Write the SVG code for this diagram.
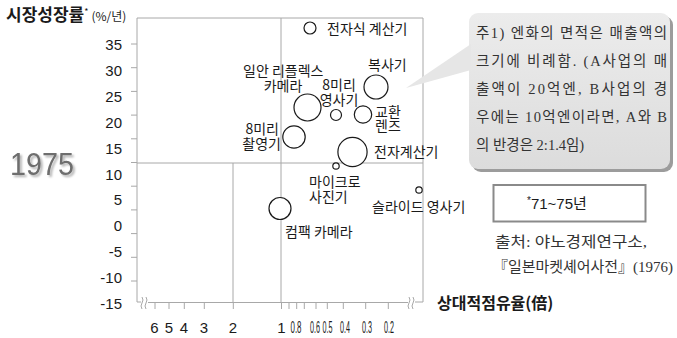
<svg xmlns="http://www.w3.org/2000/svg" width="677" height="338" viewBox="0 0 677 338">
<defs>
<style>
.ax{stroke:#a8a8a8;stroke-width:1;fill:none}
.lbl{font-family:"Noto Sans CJK KR","Liberation Sans",sans-serif;font-size:14px;fill:#1a1a1a}
.num{font-family:"Liberation Sans","Noto Sans CJK KR",sans-serif;font-size:15px;fill:#1a1a1a}
.dec{font-family:"Liberation Sans",sans-serif;font-size:16px;fill:#1a1a1a;text-anchor:middle}
.yl{text-anchor:end}
.xl{text-anchor:middle}
.bub{fill:#fff;stroke:#1a1a1a;stroke-width:1.2}
.note{font-family:"Liberation Serif","Noto Sans CJK KR",serif;font-size:14.5px;fill:#333}
.src{font-family:"Liberation Serif","Noto Sans CJK KR",serif;font-size:15px;fill:#333}
</style>
<filter id="sh" x="-10%" y="-20%" width="130%" height="150%">
<feDropShadow dx="2" dy="2" stdDeviation="1" flood-color="#000" flood-opacity="0.3"/>
</filter>
<linearGradient id="cg" x1="0" y1="0" x2="0" y2="1">
<stop offset="0" stop-color="#ececec"/>
<stop offset="1" stop-color="#dcdcdc"/>
</linearGradient>
</defs>
<rect width="677" height="338" fill="#fff"/>

<!-- axis titles -->
<text x="6" y="21" style="font-family:'Noto Sans CJK KR',sans-serif;font-size:17px;font-weight:bold;fill:#1a1a1a">시장성장률<tspan style="font-size:9px;font-weight:normal" dy="-6">*</tspan><tspan dy="6" dx="3" style="font-size:12px;font-weight:normal">(%/년)</tspan></text>
<text x="437" y="309" style="font-family:'Noto Sans CJK KR',sans-serif;font-size:16px;font-weight:bold;fill:#1a1a1a">상대적점유율(倍)</text>

<!-- 1975 -->
<text x="10" y="175" filter="url(#sh)" style="font-family:'Liberation Sans',sans-serif;font-size:31px;fill:#6e6e6e" textLength="64" lengthAdjust="spacingAndGlyphs">1975</text>

<!-- frame and grid -->
<g id="axes">
<path class="ax" d="M137,18 H423 V302 H415 M137,18 V302 H141 M148,302.5 H408"/>
<path class="ax" d="M137,163 H423 M281,18 V302 M233,163 V302"/>
<path class="ax" d="M131,44 H137 M131,67.7 H137 M131,91.4 H137 M131,115.1 H137 M131,138.8 H137 M131,162.5 H137 M131,186.2 H137 M131,209.9 H137 M131,233.6 H137 M131,257.3 H137 M131,281 H137"/>
<path class="ax" d="M155,303 V309 M169,303 V309 M184.3,303 V309 M204.3,303 V309 M233.3,303 V309 M281.5,303 V309 M289,303 V309 M296.7,303 V309 M304.3,303 V309 M316,303 V309 M327.3,303 V309 M343.3,303 V309 M365.7,303 V309 M388.3,303 V309"/>
<path class="ax" d="M142,297 q2,3 0,6 q-2,3 0,6 M146,297 q2,3 0,6 q-2,3 0,6 M409,297 q2,3 0,6 q-2,3 0,6 M413,297 q2,3 0,6 q-2,3 0,6"/>
</g>

<!-- y labels -->
<g class="num yl">
<text x="122" y="50">35</text>
<text x="122" y="76">30</text>
<text x="122" y="102">25</text>
<text x="122" y="128">20</text>
<text x="122" y="154">15</text>
<text x="122" y="180">10</text>
<text x="122" y="205">5</text>
<text x="122" y="231">0</text>
<text x="122" y="257">-5</text>
<text x="122" y="283">-10</text>
<text x="122" y="309">-15</text>
</g>

<!-- x labels -->
<g class="num xl">
<text x="154.5" y="333">6</text>
<text x="169" y="333">5</text>
<text x="184" y="333">4</text>
<text x="204" y="333">3</text>
<text x="233" y="333">2</text>
<text x="281.5" y="333">1</text>
</g>
<g>
<text class="dec" x="296" y="333" textLength="11" lengthAdjust="spacingAndGlyphs">0.8</text>
<text class="dec" x="315" y="333" textLength="10" lengthAdjust="spacingAndGlyphs">0.6</text>
<text class="dec" x="327.5" y="333" textLength="10" lengthAdjust="spacingAndGlyphs">0.5</text>
<text class="dec" x="345" y="333" textLength="10" lengthAdjust="spacingAndGlyphs">0.4</text>
<text class="dec" x="367" y="333" textLength="10" lengthAdjust="spacingAndGlyphs">0.3</text>
<text class="dec" x="389" y="333" textLength="10" lengthAdjust="spacingAndGlyphs">0.2</text>
</g>

<!-- bubbles -->
<g id="n-calc-e">
<circle class="bub" cx="310" cy="28" r="6"/>
<text class="lbl" x="327" y="34">전자식 계산기</text>
</g>
<g id="n-copier">
<circle class="bub" cx="376" cy="87" r="12"/>
<text class="lbl" x="368" y="70">복사기</text>
</g>
<g id="n-slr">
<circle class="bub" cx="307.5" cy="107.5" r="13.5"/>
<text class="lbl" x="243" y="76">일안 리플렉스</text>
<text class="lbl" x="283" y="91" text-anchor="middle">카메라</text>
</g>
<g id="n-8proj">
<circle class="bub" cx="336" cy="115" r="5.5"/>
<text class="lbl" x="339" y="90" text-anchor="middle">8미리</text>
<text class="lbl" x="339" y="105" text-anchor="middle">영사기</text>
</g>
<g id="n-lens">
<circle class="bub" cx="363" cy="114.5" r="8.7"/>
<text class="lbl" x="375" y="117">교환</text>
<text class="lbl" x="375" y="131">렌즈</text>
</g>
<g id="n-8cam">
<circle class="bub" cx="294" cy="137" r="11.2"/>
<text class="lbl" x="279" y="134" text-anchor="end">8미리</text>
<text class="lbl" x="281" y="149" text-anchor="end">촬영기</text>
</g>
<g id="n-calc">
<circle class="bub" cx="352.5" cy="152" r="14.6"/>
<text class="lbl" x="374" y="157">전자계산기</text>
</g>
<g id="n-micro">
<circle class="bub" cx="336" cy="166" r="3.2"/>
<text class="lbl" x="309" y="187">마이크로</text>
<text class="lbl" x="309" y="202">사진기</text>
</g>
<g id="n-slide">
<circle class="bub" cx="419" cy="190" r="3.2"/>
<text class="lbl" x="372" y="212">슬라이드 영사기</text>
</g>
<g id="n-compact">
<circle class="bub" cx="280" cy="208.5" r="11"/>
<text class="lbl" x="285" y="237">컴팩 카메라</text>
</g>

<!-- callout -->
<g id="callout">
<rect x="472" y="16" width="201" height="156" rx="9" fill="#9c9c9c"/>
<rect x="469" y="13" width="201" height="156" rx="9" fill="url(#cg)"/>
<polygon points="406,88 471,44 471,70" fill="#e6e6e6"/>
<text class="note" x="476" y="38" textLength="191" lengthAdjust="spacing">주1) 엔화의 면적은 매출액의</text>
<text class="note" x="476" y="66" textLength="191" lengthAdjust="spacing">크기에 비례함. (A사업의 매</text>
<text class="note" x="476" y="94" textLength="191" lengthAdjust="spacing">출액이 20억엔, B사업의 경</text>
<text class="note" x="476" y="122" textLength="191" lengthAdjust="spacing">우에는 10억엔이라면, A와 B</text>
<text class="note" x="476" y="150">의 반경은 2:1.4임)</text>
</g>

<!-- legend box -->
<g id="period">
<rect x="493.5" y="185" width="152" height="36.5" fill="#fff" stroke="#8a8a8a" stroke-width="2"/>
<text x="527" y="209" style="font-family:'Liberation Sans','Noto Sans CJK KR',sans-serif;font-size:15px;fill:#1a1a1a"><tspan style="font-size:10px" dy="-5">*</tspan><tspan dy="5">71~75년</tspan></text>
</g>

<!-- source -->
<g id="source">
<text class="src" x="495" y="247" textLength="152" lengthAdjust="spacingAndGlyphs">출처: 야노경제연구소,</text>
<text class="src" x="493" y="272" textLength="180" lengthAdjust="spacingAndGlyphs">『일본마켓셰어사전』(1976)</text>
</g>
</svg>
